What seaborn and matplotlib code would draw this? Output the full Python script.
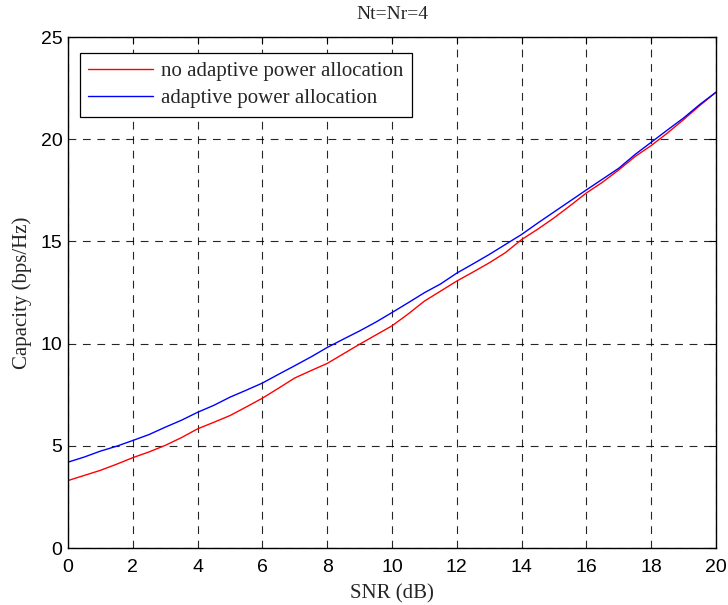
import numpy as np
import pandas as pd
import matplotlib
matplotlib.use("Agg")
import matplotlib.pyplot as plt
import seaborn as sns
from matplotlib.lines import Line2D

snr_db = [0, 0.5, 1, 1.5, 2, 2.5, 3, 3.5, 4, 4.5, 5, 5.5, 6, 6.5, 7, 7.5, 8, 8.5, 9, 9.5,
          10, 10.5, 11, 11.5, 12, 12.5, 13, 13.5, 14, 14.5, 15, 15.5, 16, 16.5, 17, 17.5,
          18, 18.5, 19, 19.5, 20]
cap_no_adaptive = [3.30, 3.55, 3.80, 4.10, 4.42, 4.70, 5.02, 5.40, 5.83, 6.15, 6.48, 6.90,
                   7.33, 7.82, 8.32, 8.68, 9.03, 9.50, 9.97, 10.42, 10.87, 11.45, 12.08,
                   12.57, 13.06, 13.50, 13.95, 14.45, 15.09, 15.60, 16.15, 16.75, 17.37,
                   17.90, 18.50, 19.15, 19.69, 20.30, 20.96, 21.65, 22.30]
cap_adaptive = [4.20, 4.45, 4.74, 4.98, 5.26, 5.55, 5.91, 6.25, 6.64, 6.98, 7.38, 7.72,
                8.07, 8.50, 8.92, 9.35, 9.81, 10.22, 10.62, 11.05, 11.52, 12.00, 12.49,
                12.92, 13.45, 13.90, 14.36, 14.85, 15.34, 15.90, 16.44, 16.98, 17.52,
                18.05, 18.58, 19.25, 19.85, 20.45, 21.04, 21.70, 22.30]
series_names = ["no adaptive power allocation", "adaptive power allocation"]
x_ticks = [0, 2, 4, 6, 8, 10, 12, 14, 16, 18, 20]
y_ticks = [0, 5, 10, 15, 20, 25]

df = pd.DataFrame({
    "SNR": snr_db * 2,
    "Capacity": cap_no_adaptive + cap_adaptive,
    "Scheme": [series_names[0]] * len(snr_db) + [series_names[1]] * len(snr_db),
})

sns.set_style("white")
plt.rcParams["font.family"] = ["Liberation Serif", "DejaVu Serif"]

fig = plt.figure(figsize=(7.28, 6.05), dpi=100)
ax = fig.add_axes([0.0934, 0.0942, 0.8901, 0.8446])

colors = {series_names[0]: "#ff0000", series_names[1]: "#0000ff"}
sns.lineplot(data=df, x="SNR", y="Capacity", hue="Scheme", palette=colors,
             linewidth=1.0, ax=ax, legend=False)

ax.set_xlim(0, 20)
ax.set_ylim(0, 25)
ax.set_xticks(x_ticks)
ax.set_yticks(y_ticks)
ax.set_xticklabels([str(t) for t in x_ticks], fontsize=14, family="Liberation Sans")
ax.set_yticklabels([str(t) for t in y_ticks], fontsize=14, family="Liberation Sans")
ax.tick_params(direction="in", length=5, width=0.8, top=True, right=True,
               colors="black")
ax.tick_params(axis="x", pad=8)
ax.tick_params(axis="y", pad=4)
ax.grid(True, color="black", linestyle=(0, (7, 6)), linewidth=0.8, alpha=0.85)
for s in ax.spines.values():
    s.set_visible(True)
    s.set_color("black")
    s.set_linewidth(1.0)

ax.set_title("Nt=Nr=4", fontsize=14, pad=13)
ax.set_xlabel("SNR (dB)", fontsize=15, labelpad=6)
ax.set_ylabel("Capacity (bps/Hz)", fontsize=15, labelpad=6)

handles = [Line2D([], [], color=colors[n], linewidth=1.0) for n in series_names]
leg = ax.legend(handles, series_names, loc="upper left", bbox_to_anchor=(0.018, 0.968),
                fontsize=15, frameon=True, fancybox=False, edgecolor="black",
                framealpha=1, borderpad=0.4, handlelength=3.1, handletextpad=0.4,
                labelspacing=0.35, borderaxespad=0)
leg.get_frame().set_linewidth(0.9)

fig.savefig("out.png", dpi=100, facecolor="white")
